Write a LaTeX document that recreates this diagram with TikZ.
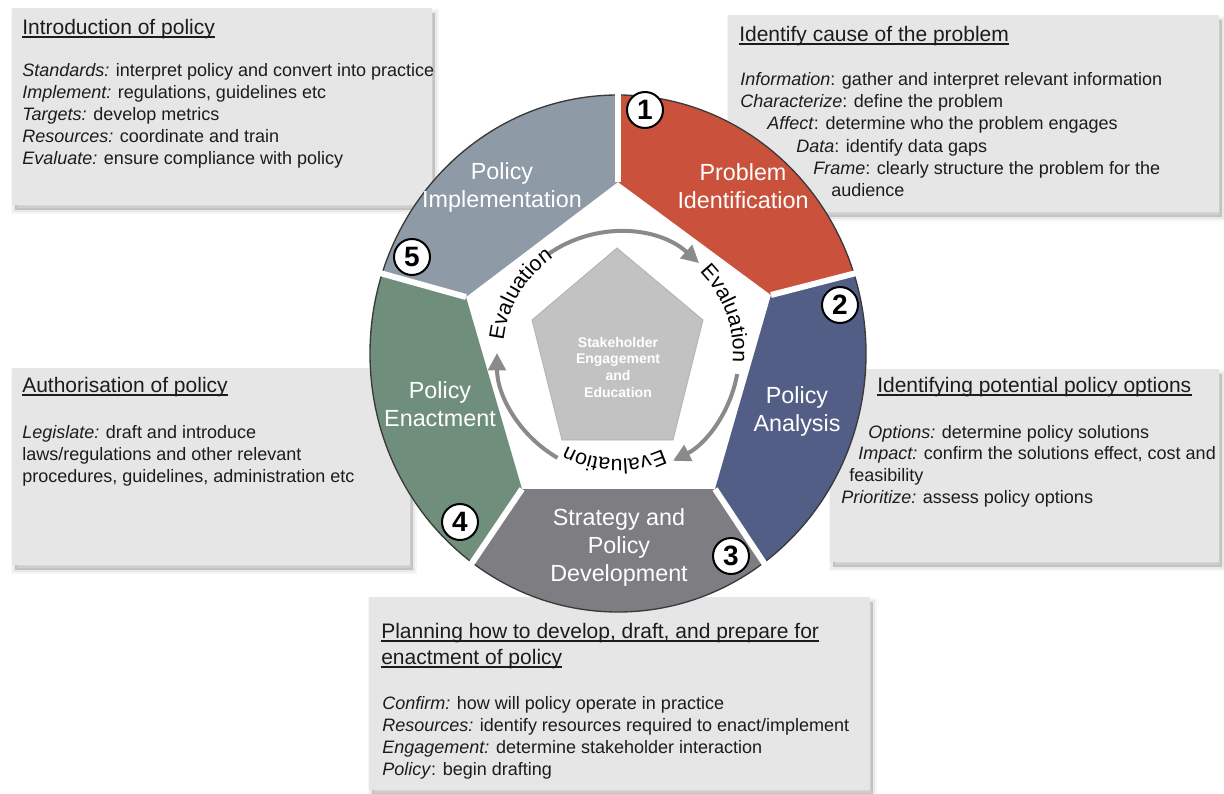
\documentclass[tikz,border=0pt]{standalone}
\usepackage{fontspec}
\setmainfont{Liberation Sans}
\usetikzlibrary{calc,decorations.text,arrows.meta}
\definecolor{segred}{HTML}{CA523C}
\definecolor{segblue}{HTML}{535E87}
\definecolor{seggrey}{HTML}{7D7D82}
\definecolor{seggreen}{HTML}{6F8F7C}
\definecolor{segslate}{HTML}{8E9AA6}
\definecolor{boxfill}{HTML}{E7E6E7}
\definecolor{txt}{HTML}{1C1C1C}
\definecolor{ringgrey}{HTML}{8A8A8A}
\definecolor{corefill}{HTML}{C2C2C2}
\definecolor{coreedge}{HTML}{B0B0B0}
\definecolor{rim}{HTML}{3A3A3A}
\newcommand{\fsz}[2]{\fontsize{#1}{#2}\selectfont}
\newcommand{\evalfont}{\fontsize{16}{16}\selectfont}
\tikzset{
  infobox/.style={fill=boxfill,
    preaction={fill=black, draw=black, line width=6pt, opacity=0.035, transform canvas={xshift=2.5pt, yshift=-4pt}},
    preaction={fill=black, draw=black, line width=3pt, opacity=0.05, transform canvas={xshift=2.5pt, yshift=-4pt}},
    preaction={fill=black, opacity=0.08, transform canvas={xshift=2.5pt, yshift=-4pt}}},
  ttl/.style={anchor=base west, inner sep=0pt, text=txt, font=\fsz{15.75}{18.75}},
  bodyline/.style={anchor=base west, inner sep=0pt, text=txt, font=\fsz{13.5}{16.5}},
  ul/.style={draw=txt, line width=0.9pt},
  seglabel/.style={text=white, align=center, inner sep=0pt, font=\fsz{17.5}{21}},
  numdisc/.style={circle, draw=black, fill=white, line width=1.5pt, minimum size=27pt, inner sep=0pt, font=\bfseries\fsz{21}{21}},
  rimline/.style={draw=rim, line width=1pt},
  divider/.style={draw=white, line width=4.5pt},
  coreshape/.style={fill=corefill, draw=coreedge, line width=0.6pt},
  coretext/.style={text=white, align=center, inner sep=0pt, font=\bfseries\fsz{10.5}{12.5}},
  ringarrow/.style={draw=ringgrey, line width=3pt, -{Triangle[length=13pt,width=13pt]}},
  evaltext/.style={decorate, decoration={text along path, text align=center, text={|\evalfont|Evaluation}}},
}
\begin{document}
\begin{tikzpicture}[x=0.75pt, y=-0.75pt]
\useasboundingbox (0,0) rectangle (1224,793);
\fill[white] (0,0) rectangle (1224,793);

% ---------- information boxes ----------
\path[infobox] (12,8) rectangle (432,205);
\path[infobox] (728,15) rectangle (1219,212);
\path[infobox] (12,368) rectangle (410,565);
\path[infobox] (830,369) rectangle (1219,562);
\path[infobox] (369,597) rectangle (870,790);

% top left
\node[ttl] (tlT) at (22,34) {Introduction of policy};
\draw[ul] ($(tlT.base west)+(0,3)$) -- ($(tlT.base east)+(0,3)$);
\node[bodyline] (tl1) at (22,76) {\textit{Standards:} interpret policy and convert into practice};
\node[bodyline] (tl2) at (22,98) {\textit{Implement:} regulations, guidelines etc};
\node[bodyline] (tl3) at (22,120) {\textit{Targets:} develop metrics};
\node[bodyline] (tl4) at (22,142) {\textit{Resources:} coordinate and train};
\node[bodyline] (tl5) at (22,164) {\textit{Evaluate:} ensure compliance with policy};

% top right
\node[ttl] (trT) at (739,41) {Identify cause of the problem};
\draw[ul] ($(trT.base west)+(0,3)$) -- ($(trT.base east)+(0,3)$);
\node[bodyline] (tr1) at (740,85) {\textit{Information}: gather and interpret relevant information};
\node[bodyline] (tr2) at (740,107) {\textit{Characterize}: define the problem};
\node[bodyline] (tr3) at (767,129) {\textit{Affect}: determine who the problem engages};
\node[bodyline] (tr4) at (796,152) {\textit{Data}: identify data gaps};
\node[bodyline] (tr5) at (813,174) {\textit{Frame}: clearly structure the problem for the};
\node[bodyline] (tr6) at (831,196) {audience};

% left middle
\node[ttl] (lmT) at (22,392) {Authorisation of policy};
\draw[ul] ($(lmT.base west)+(0,3)$) -- ($(lmT.base east)+(0,3)$);
\node[bodyline] (lm1) at (22,438) {\textit{Legislate:} draft and introduce};
\node[bodyline] (lm2) at (22,460) {laws/regulations and other relevant};
\node[bodyline] (lm3) at (22,482) {procedures, guidelines, administration etc};

% right middle
\node[ttl] (rmT) at (877,392) {Identifying potential policy options};
\draw[ul] ($(rmT.base west)+(0,3)$) -- ($(rmT.base east)+(0,3)$);
\node[bodyline] (rm1) at (868,438) {\textit{Options:} determine policy solutions};
\node[bodyline] (rm2) at (858,459) {\textit{Impact:} confirm the solutions effect, cost and};
\node[bodyline] (rm3) at (849,481) {feasibility};
\node[bodyline] (rm4) at (841,503) {\textit{Prioritize:} assess policy options};

% bottom
\node[ttl] (btT1) at (381,638) {Planning how to develop, draft, and prepare for};
\draw[ul] ($(btT1.base west)+(0,3)$) -- ($(btT1.base east)+(0,3)$);
\node[ttl] (btT2) at (381,664) {enactment of policy};
\draw[ul] ($(btT2.base west)+(0,3)$) -- ($(btT2.base east)+(0,3)$);
\node[bodyline] (bt1) at (382,709) {\textit{Confirm:} how will policy operate in practice};
\node[bodyline] (bt2) at (382,731) {\textit{Resources:} identify resources required to enact/implement};
\node[bodyline] (bt3) at (382,753) {\textit{Engagement:} determine stakeholder interaction};
\node[bodyline] (bt4) at (382,775) {\textit{Policy}: begin drafting};

% ---------- wheel ----------
\coordinate (C) at (618,353.5);
\coordinate (P1) at (618,182);
\coordinate (P2) at (771,295);
\coordinate (P3) at (715,489);
\coordinate (P4) at (522,489);
\coordinate (P5) at (466,297);
\coordinate (O1) at ($(C)+(-90:248 and 258.5)$);
\coordinate (O2) at ($(C)+(-18:248 and 258.5)$);
\coordinate (O3) at ($(C)+(54:248 and 258.5)$);
\coordinate (O4) at ($(C)+(126:248 and 258.5)$);
\coordinate (O5) at ($(C)+(198:248 and 258.5)$);

\fill[segred] (P1) -- (O1) arc[start angle=-90, end angle=-18, x radius=248, y radius=258.5] -- (P2) -- cycle;
\fill[segblue] (P2) -- (O2) arc[start angle=-18, end angle=54, x radius=248, y radius=258.5] -- (P3) -- cycle;
\fill[seggrey] (P3) -- (O3) arc[start angle=54, end angle=126, x radius=248, y radius=258.5] -- (P4) -- cycle;
\fill[seggreen] (P4) -- (O4) arc[start angle=126, end angle=198, x radius=248, y radius=258.5] -- (P5) -- cycle;
\fill[segslate] (P5) -- (O5) arc[start angle=198, end angle=270, x radius=248, y radius=258.5] -- (P1) -- cycle;

\draw[rimline] (C) ellipse[x radius=248, y radius=258.5];

\draw[divider] (P1) -- ($(P1)!1.03!(O1)$);
\draw[divider] (P2) -- ($(P2)!1.03!(O2)$);
\draw[divider] (P3) -- ($(P3)!1.03!(O3)$);
\draw[divider] (P4) -- ($(P4)!1.03!(O4)$);
\draw[divider] (P5) -- ($(P5)!1.03!(O5)$);

% segment labels
\node[seglabel] (lab1) at (743,186) {Problem\\Identification};
\node[seglabel] (lab2) at (797,411) {Policy\\Analysis};
\node[seglabel] (lab3) at (619,547) {Strategy and\\Policy\\Development};
\node[seglabel] (lab4) at (440,404) {Policy\\Enactment};
\node[seglabel] (lab5) at (502,187) {Policy\\Implementation};

% numbers
\node[numdisc] (n1) at (645,110) {1};
\node[numdisc] (n2) at (840,305) {2};
\node[numdisc] (n3) at (731,556) {3};
\node[numdisc] (n4) at (460,522) {4};
\node[numdisc] (n5) at (412,257) {5};

% core pentagon
\coordinate (K1) at (617,248);
\coordinate (K2) at (703,320);
\coordinate (K3) at (673,440);
\coordinate (K4) at (562,440);
\coordinate (K5) at (532,320);
\path[coreshape] (K1) -- (K2) -- (K3) -- (K4) -- (K5) -- cycle;
\node[coretext] (core) at (618,367) {Stakeholder\\Engagement\\and\\Education};

% evaluation ring
\coordinate (R) at (618,353);
\draw[ringarrow] ($(R)+(235:121)$) arc[start angle=235, end angle=312, radius=121];
\draw[ringarrow] ($(R)+(10:121)$) arc[start angle=10, end angle=63, radius=121];
\draw[ringarrow] ($(R)+(120:121)$) arc[start angle=120, end angle=180, radius=121];
\path[evaltext] ($(R)+(-47:115)$) arc[start angle=-47, end angle=7, radius=115];
\path[evaltext] ($(R)+(60:106)$) arc[start angle=60, end angle=124, radius=106];
\path[evaltext] ($(R)+(184:115)$) arc[start angle=184, end angle=238, radius=115];
\end{tikzpicture}
\end{document}
